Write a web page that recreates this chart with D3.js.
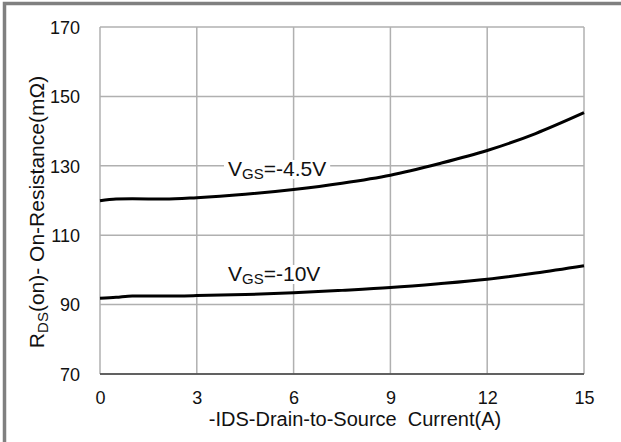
<!DOCTYPE html>
<html>
<head>
<meta charset="utf-8">
<script src="https://cdn.jsdelivr.net/npm/d3@7"></script>
<style>
  body { margin: 0; background: #fff; }
  svg { display: block; font-family: Arial, "Liberation Sans", sans-serif; }
</style>
</head>
<body>
<svg id="chart" width="621" height="442"></svg>
<script>
// Дані з графіка
const xTicks = [0, 3, 6, 9, 12, 15];
const yTicks = [70, 90, 110, 130, 150, 170];

const currentA = [0, 0.5, 1, 2, 3, 4.5, 6, 7.5, 9, 10.5, 12, 13.5, 15];
const vgs45 = [119.9, 120.4, 120.5, 120.4, 120.8, 121.8, 123.2, 125.0, 127.3, 130.6, 134.4, 139.3, 145.3];
const vgs10 = [91.8, 92.1, 92.5, 92.5, 92.6, 92.9, 93.4, 94.1, 94.9, 96.0, 97.3, 99.1, 101.2];

const seriesLabels = ['-4.5V', '-10V'];

const svg = d3.select('#chart');

// рамка зліва і зверху
svg.append('rect').attr('x', 4.5).attr('y', 3.5).attr('width', 630).attr('height', 450)
  .style('fill', 'none').style('stroke', '#808080').style('stroke-width', 3.5);

const margin = { left: 100, top: 27, right: 584, bottom: 374 };

const xScale = d3.scaleLinear().domain([0, 15]).range([margin.left, margin.right]);
const yScale = d3.scaleLinear().domain([70, 170]).range([margin.bottom, margin.top]);

// Сітка
svg.append('g').selectAll('line').data(xTicks).enter().append('line')
  .attr('x1', d => xScale(d)).attr('x2', d => xScale(d))
  .attr('y1', margin.top).attr('y2', margin.bottom)
  .style('stroke', '#b0b0b0').style('stroke-width', 1.5);

svg.append('g').selectAll('line').data(yTicks).enter().append('line')
  .attr('x1', margin.left).attr('x2', margin.right)
  .attr('y1', d => yScale(d)).attr('y2', d => yScale(d))
  .style('stroke', '#b0b0b0').style('stroke-width', 1.5);

// нижня вісь темніша
svg.append('line')
  .attr('x1', margin.left).attr('x2', margin.right)
  .attr('y1', margin.bottom).attr('y2', margin.bottom)
  .style('stroke', '#404040').style('stroke-width', 1.5);

// Підписи осей
svg.append('g')
  .attr('transform', `translate(0, ${margin.bottom + 30})`)
  .call(d3.axisBottom(xScale).tickValues(xTicks).tickSize(0).tickPadding(0))
  .call(g => g.select('.domain').remove())
  .selectAll('.tick text')
  .attr('dy', 0)
  .style('font-family', 'Arial, "Liberation Sans", sans-serif')
  .style('font-size', '18px')
  .style('fill', '#111');

svg.append('g')
  .attr('transform', `translate(80, 0)`)
  .call(d3.axisLeft(yScale).tickValues(yTicks).tickSize(0).tickPadding(0))
  .call(g => g.select('.domain').remove())
  .selectAll('.tick text')
  .attr('dy', '0.35em')
  .style('font-family', 'Arial, "Liberation Sans", sans-serif')
  .style('font-size', '18px')
  .style('fill', '#111');

svg.append('text')
  .attr('x', 355).attr('y', 426)
  .attr('text-anchor', 'middle')
  .style('font-size', '20px').style('fill', '#111')
  .style('white-space', 'pre')
  .text('-IDS-Drain-to-Source  Current(A)');

const yTitle = svg.append('text')
  .attr('transform', 'translate(44, 212) rotate(-90)')
  .attr('text-anchor', 'middle')
  .style('font-size', '21px').style('fill', '#111');
yTitle.append('tspan').text('R');
yTitle.append('tspan').attr('dy', 4).style('font-size', '15px').text('DS');
yTitle.append('tspan').attr('dy', -4).text('(on)- On-Resistance(mΩ)');

// Криві
const line = d3.line()
  .x((d, i) => xScale(currentA[i]))
  .y(d => yScale(d))
  .curve(d3.curveMonotoneX);

[vgs45, vgs10].forEach(s => {
  svg.append('path')
    .datum(s)
    .attr('d', line)
    .style('fill', 'none')
    .style('stroke', '#000')
    .style('stroke-width', 3);
});

// Підписи кривих з білим фоном
const labelGroup = svg.append('g');
function seriesLabel(x, y, v) {
  const g = labelGroup.append('g');
  const t = g.append('text').attr('x', x).attr('y', y)
    .style('font-size', '21px').style('fill', '#111');
  t.append('tspan').text('V');
  t.append('tspan').attr('dy', 3).style('font-size', '15px').text('GS');
  t.append('tspan').attr('dy', -3).text('=' + v);
  const b = t.node().getBBox();
  g.insert('rect', 'text')
    .attr('x', b.x - 4).attr('y', b.y + 3).attr('width', b.width + 8).attr('height', b.height - 6)
    .style('fill', '#fff');
}
seriesLabel(228, 176, seriesLabels[0]);
seriesLabel(228, 281, seriesLabels[1]);
</script>
</body>
</html>
